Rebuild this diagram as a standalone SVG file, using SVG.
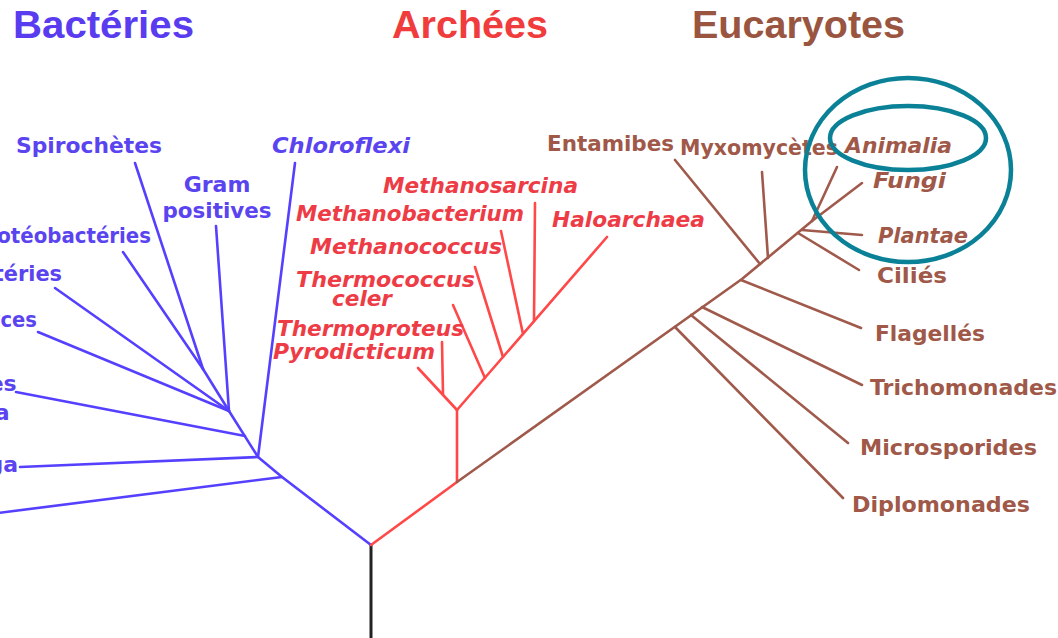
<svg xmlns="http://www.w3.org/2000/svg" width="1058" height="638" viewBox="0 0 1058 638">
<style>
  .title{font-family:"Liberation Sans",Arial,sans-serif;font-weight:bold;font-size:38px}
  .lbl{font-family:"DejaVu Sans",Verdana,sans-serif;font-weight:bold;font-size:22px}
  .it{font-style:italic}
  .bt{fill:#5a44f0}
  .rt{fill:#ee3c46}
  .et{fill:#a05848}
  .b{stroke:#5540ff;stroke-width:2.6;fill:none;stroke-linecap:round;stroke-linejoin:round}
  .r{stroke:#ff4848;stroke-width:2.6;fill:none;stroke-linecap:round;stroke-linejoin:round}
  .e{stroke:#a05a4c;stroke-width:2.6;fill:none;stroke-linecap:round;stroke-linejoin:round}
  .k{stroke:#222;stroke-width:3;fill:none}
  .ring{stroke:#0a8196;stroke-width:4.5;fill:none}
</style>
<rect width="1058" height="638" fill="#fff"/>

<g id="titles">
  <text class="title" x="13" y="38" fill="#5a3cf0" textLength="181" lengthAdjust="spacingAndGlyphs">Bactéries</text>
  <text class="title" x="392" y="38" fill="#f03c3c" textLength="156" lengthAdjust="spacingAndGlyphs">Archées</text>
  <text class="title" x="692" y="38" fill="#9a5540" textLength="213" lengthAdjust="spacingAndGlyphs">Eucaryotes</text>
</g>

<g id="connectors">
  <line class="k" x1="371" y1="545" x2="371" y2="640"/>
  <!-- bacteria -->
  <polyline class="b" points="371,545 282,477 258,457 229,411"/>
  <line class="b" x1="282" y1="477" x2="-2" y2="513"/>
  <line class="b" x1="258" y1="457" x2="20" y2="467"/>
  <line class="b" x1="245" y1="436" x2="16" y2="392"/>
  <line class="b" x1="229" y1="411" x2="38" y2="332"/>
  <line class="b" x1="229" y1="411" x2="55" y2="288"/>
  <line class="b" x1="229" y1="411" x2="203" y2="369"/>
  <line class="b" x1="203" y1="369" x2="123" y2="252"/>
  <line class="b" x1="203" y1="369" x2="135" y2="163"/>
  <line class="b" x1="229" y1="411" x2="216" y2="226"/>
  <line class="b" x1="258" y1="457" x2="295" y2="163"/>
  <!-- archaea -->
  <polyline class="r" points="371,545 457,482 457,410"/>
  <line class="r" x1="457" y1="410" x2="418" y2="368"/>
  <line class="r" x1="443" y1="395" x2="442" y2="342"/>
  <line class="r" x1="457" y1="410" x2="607" y2="237"/>
  <line class="r" x1="485" y1="378" x2="453" y2="305"/>
  <line class="r" x1="503" y1="357" x2="475" y2="267"/>
  <line class="r" x1="523" y1="334" x2="501" y2="231"/>
  <line class="r" x1="534" y1="321" x2="535" y2="203"/>
  <!-- eukaryotes -->
  <polyline class="e" points="457,482 742,279 812,221"/>
  <line class="e" x1="675" y1="327" x2="843" y2="498"/>
  <line class="e" x1="691" y1="315" x2="848" y2="443"/>
  <line class="e" x1="702" y1="307" x2="862" y2="385"/>
  <line class="e" x1="741" y1="280" x2="861" y2="328"/>
  <line class="e" x1="760" y1="264" x2="675" y2="160"/>
  <line class="e" x1="768" y1="258" x2="762" y2="172"/>
  <line class="e" x1="798" y1="233" x2="859" y2="270"/>
  <line class="e" x1="802" y1="230" x2="862" y2="235"/>
  <line class="e" x1="812" y1="221" x2="837" y2="167"/>
  <line class="e" x1="812" y1="221" x2="862" y2="183"/>
</g>

<g id="spirochetes"><text class="lbl bt" x="16" y="153" textLength="146" lengthAdjust="spacingAndGlyphs">Spirochètes</text></g>
<g id="gram-positives">
  <text class="lbl bt" x="217" y="192" text-anchor="middle">Gram</text>
  <text class="lbl bt" x="217" y="218" text-anchor="middle" textLength="109" lengthAdjust="spacingAndGlyphs">positives</text>
</g>
<g id="chloroflexi"><text class="lbl it bt" x="272" y="153" textLength="138" lengthAdjust="spacingAndGlyphs">Chloroflexi</text></g>
<g id="proteobacteries"><text class="lbl bt" x="151" y="243" text-anchor="end" textLength="178" lengthAdjust="spacingAndGlyphs">Protéobactéries</text></g>
<g id="cyanobacteries"><text class="lbl bt" x="62" y="281" text-anchor="end" textLength="182" lengthAdjust="spacingAndGlyphs">Cyanobactéries</text></g>
<g id="planctomyces"><text class="lbl bt" x="37" y="327" text-anchor="end" textLength="152" lengthAdjust="spacingAndGlyphs">Planctomyces</text></g>
<g id="bacteroides-cytophaga">
  <text class="lbl bt" x="-57" y="391" text-anchor="middle">Bacteroides</text>
  <text class="lbl bt" x="-57" y="420" text-anchor="middle">Cytophaga</text>
</g>
<g id="thermotoga"><text class="lbl bt" x="18" y="472" text-anchor="end">Thermotoga</text></g>

<g id="methanosarcina"><text class="lbl it rt" x="383" y="193" textLength="195" lengthAdjust="spacingAndGlyphs">Methanosarcina</text></g>
<g id="methanobacterium"><text class="lbl it rt" x="296" y="221" textLength="228" lengthAdjust="spacingAndGlyphs">Methanobacterium</text></g>
<g id="haloarchaea"><text class="lbl it rt" x="552" y="227" textLength="153" lengthAdjust="spacingAndGlyphs">Haloarchaea</text></g>
<g id="methanococcus"><text class="lbl it rt" x="310" y="254" textLength="192" lengthAdjust="spacingAndGlyphs">Methanococcus</text></g>
<g id="thermococcus-celer">
  <text class="lbl it rt" x="296" y="287" textLength="179" lengthAdjust="spacingAndGlyphs">Thermococcus</text>
  <text class="lbl it rt" x="332" y="306" textLength="60" lengthAdjust="spacingAndGlyphs">celer</text>
</g>
<g id="thermoproteus"><text class="lbl it rt" x="277" y="336" textLength="187" lengthAdjust="spacingAndGlyphs">Thermoproteus</text></g>
<g id="pyrodicticum"><text class="lbl it rt" x="273" y="359" textLength="162" lengthAdjust="spacingAndGlyphs">Pyrodicticum</text></g>

<g id="entamibes"><text class="lbl et" x="547" y="151" textLength="127" lengthAdjust="spacingAndGlyphs">Entamibes</text></g>
<g id="myxomycetes"><text class="lbl et" x="680" y="155" textLength="158" lengthAdjust="spacingAndGlyphs">Myxomycètes</text></g>
<g id="animalia"><text class="lbl it et" x="845" y="153" textLength="107" lengthAdjust="spacingAndGlyphs">Animalia</text></g>
<g id="fungi"><text class="lbl it et" x="873" y="188" textLength="73" lengthAdjust="spacingAndGlyphs">Fungi</text></g>
<g id="plantae"><text class="lbl it et" x="878" y="243" textLength="90" lengthAdjust="spacingAndGlyphs">Plantae</text></g>
<g id="cilies"><text class="lbl et" x="877" y="283" textLength="70" lengthAdjust="spacingAndGlyphs">Ciliés</text></g>
<g id="flagelles"><text class="lbl et" x="875" y="341" textLength="110" lengthAdjust="spacingAndGlyphs">Flagellés</text></g>
<g id="trichomonades"><text class="lbl et" x="870" y="395">Trichomonades</text></g>
<g id="microsporides"><text class="lbl et" x="860" y="455" textLength="177" lengthAdjust="spacingAndGlyphs">Microsporides</text></g>
<g id="diplomonades"><text class="lbl et" x="852" y="512" textLength="178" lengthAdjust="spacingAndGlyphs">Diplomonades</text></g>

<g id="highlights">
  <ellipse class="ring" cx="908" cy="170" rx="103" ry="92"/>
  <ellipse class="ring" cx="908" cy="138" rx="78" ry="32"/>
</g>
</svg>
